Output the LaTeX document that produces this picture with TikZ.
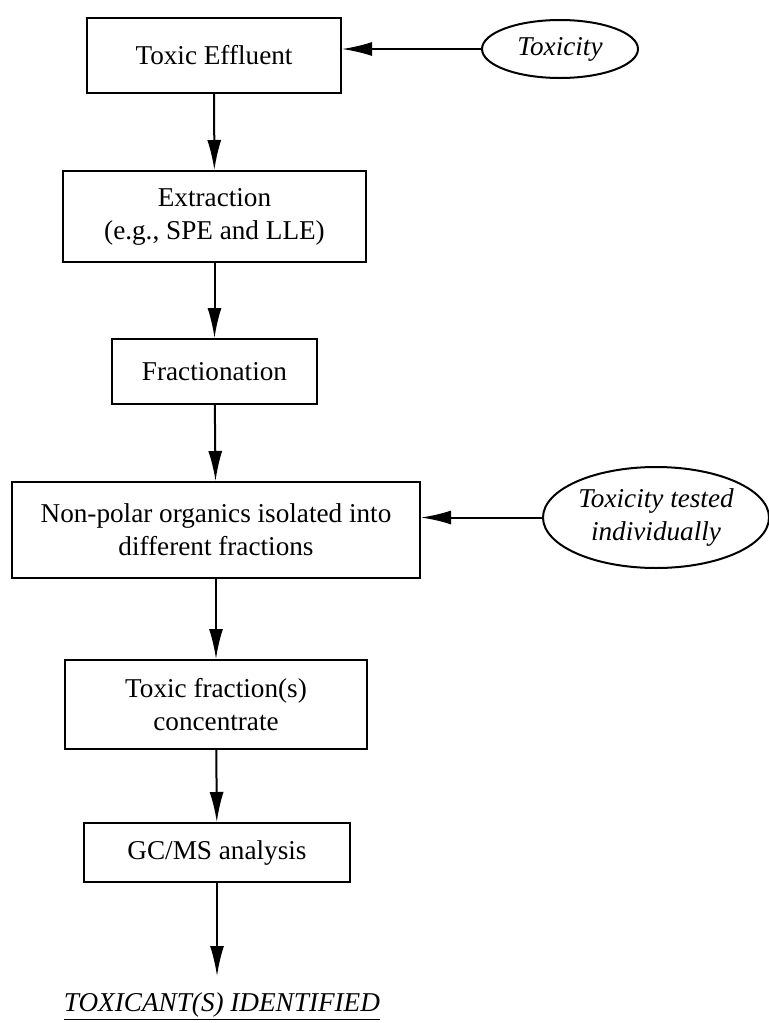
\documentclass[tikz,border=0pt]{standalone}
\usepackage{fontspec}
\setmainfont{Liberation Serif}
\usetikzlibrary{shapes.geometric, arrows.meta}
\newcommand{\stagefont}{\fontsize{13.6}{16.5}\selectfont}
\tikzstyle{stage}=[draw, line width=1pt, align=center, inner sep=0pt, font=\stagefont]
\tikzstyle{test}=[draw, ellipse, line width=1pt, align=center, inner sep=0pt, font=\stagefont\itshape]
\tikzstyle{flow}=[-{Latex[length=15pt, width=7pt]}, line width=1pt]

\begin{document}
\begin{tikzpicture}[x=0.5pt, y=-0.5pt]
\useasboundingbox (0,0) rectangle (768,1023);
% Steps
    \node[stage, minimum width=127pt, minimum height=37.5pt] (eff) at (214,55.5) {Toxic Effluent};
    \node[stage, minimum width=151.5pt, minimum height=45.5pt] (extr) at (214.5,216.5) {Extraction\\(e.g., SPE and LLE)};
    \node[stage, minimum width=102.5pt, minimum height=32.5pt] (frac) at (214.5,371.5) {Fractionation};
    \node[stage, minimum width=204pt, minimum height=48pt] (nonpol) at (216,530) {Non-polar organics isolated into\\different fractions};
    \node[stage, minimum width=151pt, minimum height=44.5pt] (conc) at (216,704.5) {Toxic fraction(s)\\concentrate};
    \node[stage, minimum width=133pt, minimum height=29.5pt] (gcms) at (217,852.5) {GC/MS analysis};
% Tests
    \node[test, minimum width=78pt, minimum height=29pt] (tox) at (560,49) {Toxicity};
    \node[test, minimum width=113pt, minimum height=50.5pt] (indiv) at (656,517.5) {Toxicity tested\\individually};
% Result
    \coordinate (idtip) at (217,976);
    \node[anchor=base, inner sep=0pt, font=\stagefont\itshape] (ident) at (222,1011) {\underline{TOXICANT(S) IDENTIFIED}};
% Arrows
    \draw[flow] (eff) -- (extr);
    \draw[flow] (extr) -- (frac);
    \draw[flow] (frac) -- (nonpol);
    \draw[flow] (nonpol) -- (conc);
    \draw[flow] (conc) -- (gcms);
    \draw[flow] (gcms) -- (idtip);
    \draw[flow] (tox.west) -- (tox.west -| eff.east);
    \draw[flow] (indiv.west) -- (indiv.west -| nonpol.east);
\end{tikzpicture}
\end{document}
